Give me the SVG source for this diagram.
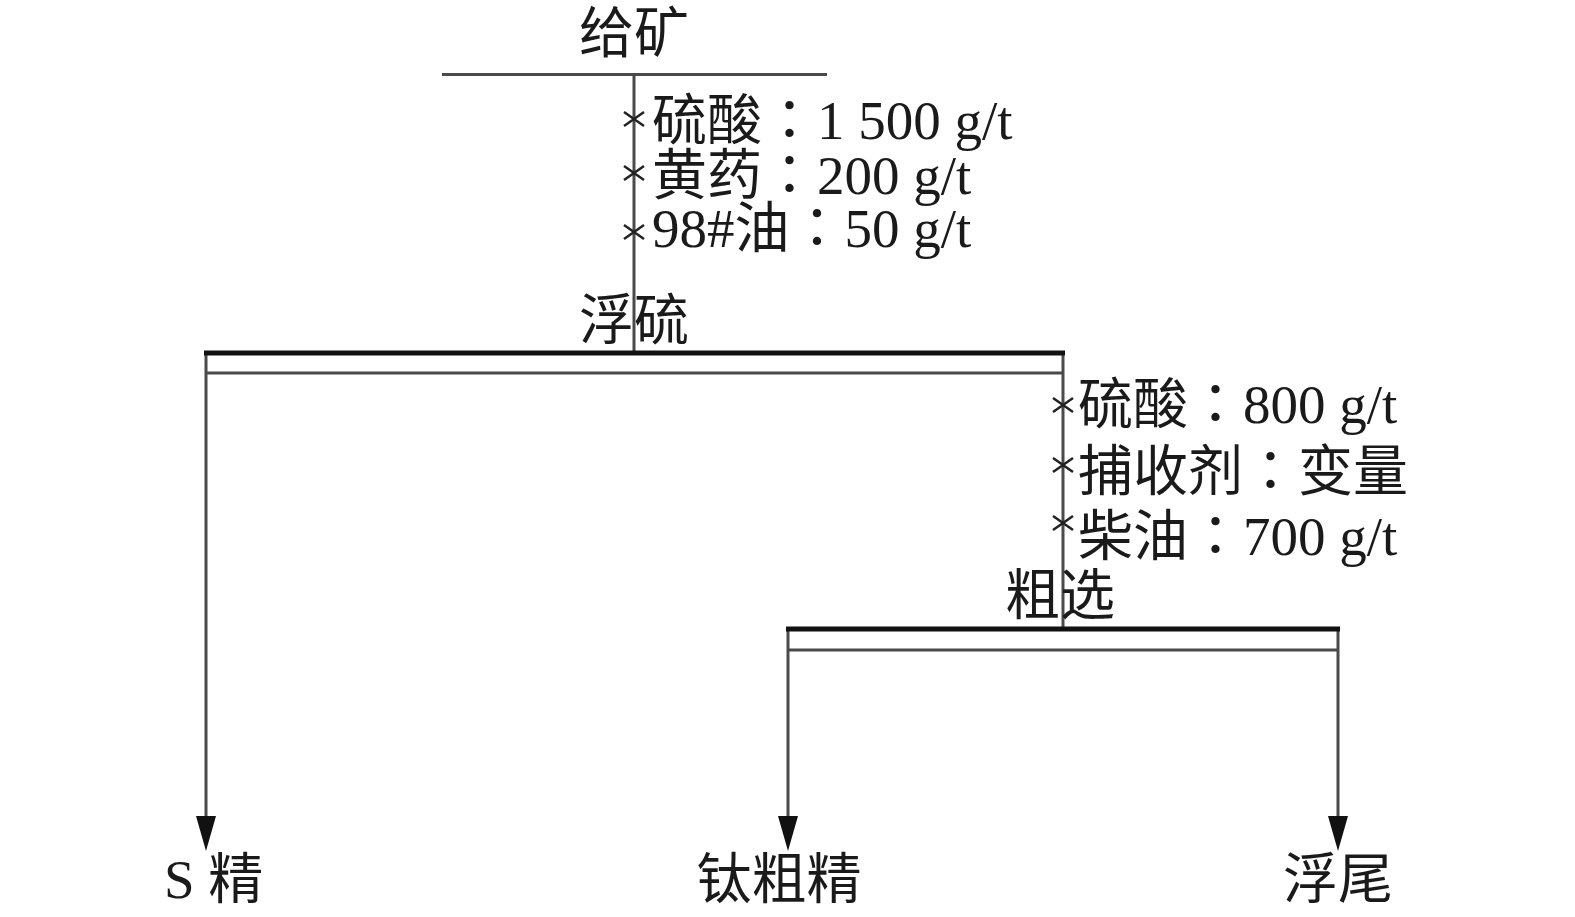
<svg xmlns="http://www.w3.org/2000/svg" width="1575" height="917" viewBox="0 0 1575 917">
<defs>
<style>
.t{font-family:"Liberation Serif","Noto Sans CJK SC",serif;font-size:55px;fill:#1a1a1a}
.c{font-family:"Noto Sans CJK TC",sans-serif}
.ln{stroke:#4a4a4a;stroke-width:3;fill:none}
.thick{stroke:#111;stroke-width:5;fill:none}
.xm{stroke:#222;stroke-width:2.5;fill:none}
</style>
<marker id="arr" viewBox="0 0 35 20" refX="4" refY="10" markerWidth="35" markerHeight="20" markerUnits="userSpaceOnUse" orient="auto">
<path d="M0,0 L35,10 L0,20 Z" fill="#111"/>
</marker>
<path id="xmark" d="M-10,-7 L10,7 M-10,7 L10,-7"/>
</defs>
<rect width="1575" height="917" fill="#fff"/>
<g id="connectors">
<line class="ln" x1="442" y1="74.5" x2="827" y2="74.5"/>
<line class="ln" x1="634" y1="74.5" x2="634" y2="353"/>
<line class="ln" x1="1063" y1="373" x2="1063" y2="629"/>
<line class="ln" x1="206" y1="353" x2="206" y2="820" marker-end="url(#arr)"/>
<line class="ln" x1="788" y1="650" x2="788" y2="820" marker-end="url(#arr)"/>
<line class="ln" x1="1338" y1="650" x2="1338" y2="820" marker-end="url(#arr)"/>
<g class="xm">
<use href="#xmark" x="634" y="119"/>
<use href="#xmark" x="634" y="173"/>
<use href="#xmark" x="634" y="232"/>
<use href="#xmark" x="1063" y="405"/>
<use href="#xmark" x="1063" y="465"/>
<use href="#xmark" x="1063" y="523"/>
</g>
</g>
<g id="feed">
<text class="t" x="634" y="52" text-anchor="middle">给矿</text>
</g>
<g id="reagents1">
<text class="t" x="652" y="139">硫酸<tspan class="c">：</tspan>1 500 g/t</text>
<text class="t" x="652" y="194">黄药<tspan class="c">：</tspan>200 g/t</text>
<text class="t" x="652" y="247">98#油<tspan class="c">：</tspan>50 g/t</text>
</g>
<g id="cell-sulfur">
<line class="ln" x1="206" y1="373" x2="1063" y2="373"/>
<line class="ln" x1="1063" y1="353" x2="1063" y2="373"/>
<line class="thick" x1="204" y1="353" x2="1065" y2="353"/>
<text class="t" x="634" y="339" text-anchor="middle">浮硫</text>
</g>
<g id="reagents2">
<text class="t" x="1078" y="423">硫酸<tspan class="c">：</tspan>800 g/t</text>
<text class="t" x="1078" y="490">捕收剂<tspan class="c">：</tspan>变量</text>
<text class="t" x="1078" y="555">柴油<tspan class="c">：</tspan>700 g/t</text>
</g>
<g id="cell-rougher">
<line class="ln" x1="788" y1="650" x2="1338" y2="650"/>
<line class="ln" x1="788" y1="629" x2="788" y2="650"/>
<line class="ln" x1="1338" y1="629" x2="1338" y2="650"/>
<line class="thick" x1="786" y1="629" x2="1340" y2="629"/>
<text class="t" x="1060" y="614" text-anchor="middle">粗选</text>
</g>
<g id="s-conc">
<text class="t" x="164" y="898">S 精</text>
</g>
<g id="ti-conc">
<text class="t" x="779" y="898" text-anchor="middle">钛粗精</text>
</g>
<g id="tailings">
<text class="t" x="1338" y="898" text-anchor="middle">浮尾</text>
</g>
</svg>
